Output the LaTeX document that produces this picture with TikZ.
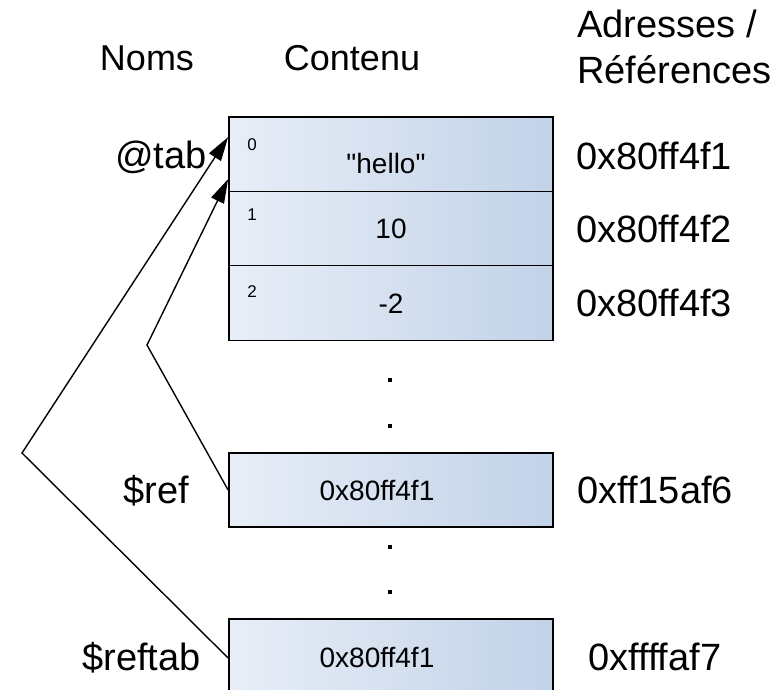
\documentclass[tikz,border=0pt]{standalone}
\usepackage{fontspec}
\setmainfont{Liberation Sans}
% same face without the TeX quote mapping, for straight quotes
\newfontfamily\rawfont{Liberation Sans}
\usetikzlibrary{arrows.meta,calc}
\definecolor{cellL}{HTML}{E8EEF7}
\definecolor{cellR}{HTML}{C2D2E8}
\newcommand\headtxt{\fontsize{36}{42}\selectfont}
\newcommand\bigtxt{\fontsize{38}{44}\selectfont}
\newcommand\valtxt{\fontsize{28}{33}\selectfont}
\newcommand\idxtxt{\fontsize{17}{20}\selectfont}
\tikzset{
  cellbox/.style={draw=black, line width=1.8pt, minimum width=324pt, minimum height=75pt,
    inner sep=0pt, left color=cellL, right color=cellR},
  headlbl/.style={font=\headtxt, inner sep=0pt, anchor=base},
  addrlbl/.style={font=\bigtxt, inner sep=0pt, anchor=base west},
  varlbl/.style={font=\bigtxt, inner sep=0pt, anchor=base east},
  vallbl/.style={font=\valtxt, inner sep=0pt, anchor=base},
  idxlbl/.style={font=\idxtxt, inner sep=0pt, anchor=north},
  dotmark/.style={fill=black, minimum size=3.2pt, inner sep=0pt},
  refline/.style={line width=1.4pt, -{Triangle[length=24pt,width=14pt]}}
}
\begin{document}
\begin{tikzpicture}[x=1pt, y=-1pt]
\useasboundingbox (0,0) rectangle (783,689);
\clip (0,0) rectangle (783,689);

% column headings
\node[headlbl] (hnoms) at (147,70) {Noms};
\node[headlbl] (hcont) at (352,70) {Contenu};
\node[addrlbl] (hadr1) at (577,37) {Adresses /};
\node[addrlbl] (hadr2) at (577,83) {Références};

% the array cells
\node[cellbox] (c0) at (391,154.5) {};
\node[cellbox] (c1) at (391,229) {};
\node[cellbox] (c2) at (391,303) {};
\node[idxlbl] (i0) at (252,138) {0};
\node[idxlbl] (i1) at (252,209) {1};
\node[idxlbl] (i2) at (252,285) {2};
\node[vallbl] (v0) at (386,173) {\rawfont "hello"};
\node[vallbl] (v1) at (391,238) {10};
\node[vallbl] (v2) at (391,313) {-2};

% elided memory
\node[dotmark] (d1) at (390,380) {};
\node[dotmark] (d2) at (390,426) {};
\node[dotmark] (d3) at (390,547) {};
\node[dotmark] (d4) at (390,592) {};

% scalar references
\node[cellbox, minimum height=74pt] (r1) at (391,490) {};
\node[vallbl] (rv1) at (377,500) {0x80ff4f1};
\node[cellbox, minimum height=78pt] (r2) at (391,658) {};
\node[vallbl] (rv2) at (377,667) {0x80ff4f1};

% variable names
\node[varlbl] (ntab) at (207,168) {@tab};
\node[varlbl] (nref) at (189,503) {\$ref};
\node[varlbl] (nreftab) at (201,670) {\$reftab};

% addresses
\node[addrlbl] (a0) at (576,169) {0x80ff4f1};
\node[addrlbl] (a1) at (576,242) {0x80ff4f2};
\node[addrlbl] (a2) at (576,316) {0x80ff4f3};
\node[addrlbl] (a3) at (577,503) {0xff15af6};
\node[addrlbl] (a4) at (588,670) {0xffffaf7};

% arrows back to the first cell
\coordinate (bendA) at (22,453);
\coordinate (bendB) at (147,345);
\coordinate (tipA) at ($(c0.north west)+(0,21)$);
\coordinate (tipB) at ($(c0.north west)+(0,63)$);
\draw[refline] (r2.west) -- (bendA) -- (tipA);
\draw[refline] (r1.west) -- (bendB) -- (tipB);
\end{tikzpicture}
\end{document}
